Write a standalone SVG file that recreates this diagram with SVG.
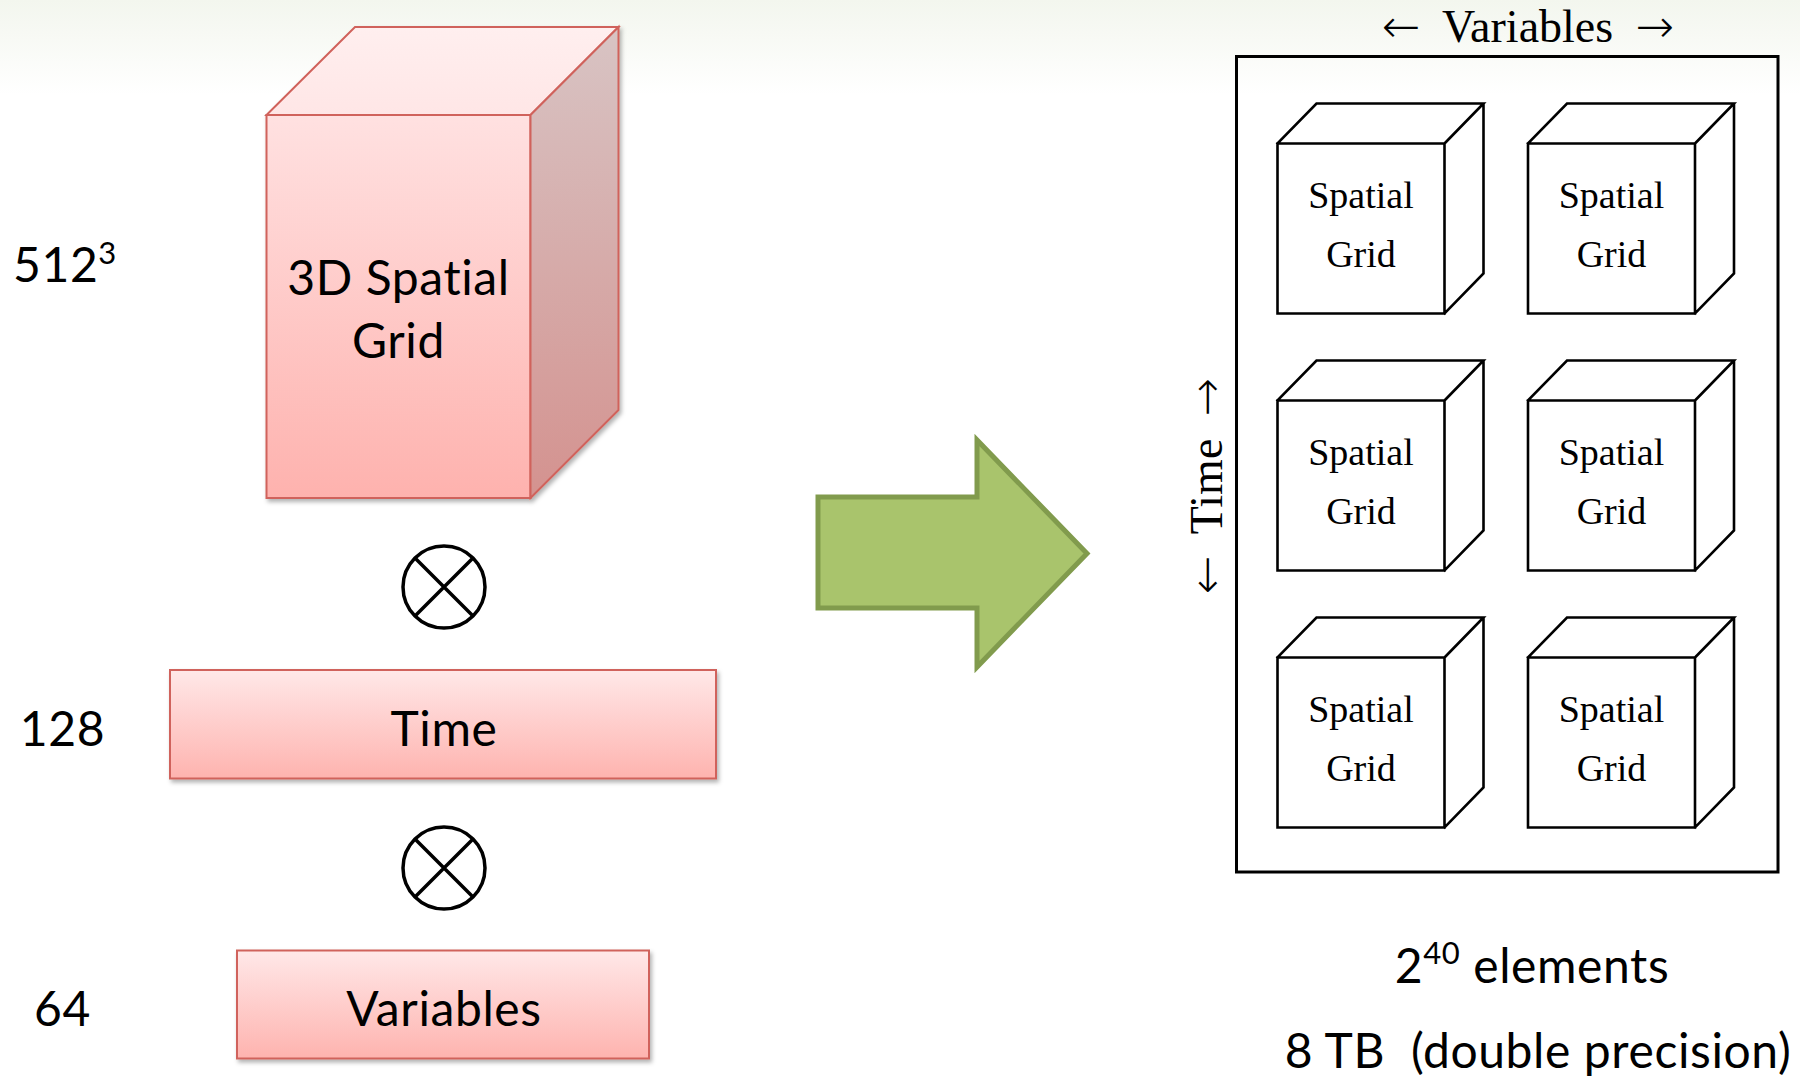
<svg xmlns="http://www.w3.org/2000/svg" xmlns:xlink="http://www.w3.org/1999/xlink" width="1800" height="1079" viewBox="0 0 1800 1079">
<style>
.sans{font-family:Lato,"Open Sans","Liberation Sans",sans-serif;fill:#000;font-size:48px;letter-spacing:0.6px}
.serif{font-family:"Liberation Serif","DejaVu Serif",serif;fill:#000}
.axis{font-size:46px;word-spacing:11px;text-anchor:middle}
.arr{font-family:"DejaVu Sans",sans-serif;font-weight:200}
.pinkline{stroke:#d0625b;stroke-width:2;stroke-linejoin:miter}
.bk{fill:none;stroke:#000;stroke-width:2.6;stroke-linejoin:miter;stroke-linecap:square}
.otimes{fill:none;stroke:#000;stroke-width:3.5}
.cell{font-size:38px;text-anchor:middle}
</style>
<defs>
<linearGradient id="bgTop" x1="0" y1="0" x2="0" y2="1">
<stop offset="0" stop-color="#f3f6ee"/>
<stop offset="1" stop-color="#ffffff"/>
</linearGradient>
<linearGradient id="frontG" gradientUnits="userSpaceOnUse" x1="0" y1="115" x2="0" y2="498">
<stop offset="0" stop-color="#ffe1e1"/>
<stop offset="1" stop-color="#feb2ae"/>
</linearGradient>
<linearGradient id="topG" gradientUnits="userSpaceOnUse" x1="0" y1="27" x2="0" y2="115">
<stop offset="0" stop-color="#ffefef"/>
<stop offset="1" stop-color="#ffe6e6"/>
</linearGradient>
<linearGradient id="sideG" gradientUnits="userSpaceOnUse" x1="0" y1="27" x2="0" y2="498">
<stop offset="0" stop-color="#d8c4c4"/>
<stop offset="1" stop-color="#d4928f"/>
</linearGradient>
<linearGradient id="boxG" x1="0" y1="0" x2="0" y2="1">
<stop offset="0" stop-color="#ffe8e8"/>
<stop offset="1" stop-color="#feb3af"/>
</linearGradient>
<filter id="shadow" x="-10%" y="-10%" width="125%" height="130%">
<feDropShadow dx="2" dy="3" stdDeviation="2" flood-color="#000" flood-opacity="0.3"/>
</filter>
<g id="scube">
<rect x="0" y="0" width="167" height="170" fill="#fff"/>
<path d="M0,0 L39,-40 L206,-40 L167,0 Z M167,0 L206,-40 L206,130 L167,170" fill="#fff"/>
<path class="bk" d="M0,0 H167 V170 H0 Z M0,0 L39,-40 H206 L167,0 M206,-40 V130 L167,170"/>
</g>
<g id="otimesShape">
<circle cx="0" cy="0" r="41" class="otimes"/>
<path class="otimes" d="M-29,-29 L29,29 M29,-29 L-29,29"/>
</g>
</defs>

<rect x="0" y="0" width="1800" height="1079" fill="#fff"/>
<rect x="0" y="0" width="1800" height="95" fill="url(#bgTop)"/>

<g id="spatial-grid-cube" filter="url(#shadow)">
<rect x="266.5" y="115" width="264" height="383" fill="url(#frontG)" class="pinkline"/>
<polygon points="266.5,115 355,27 618.5,27 530.5,115" fill="url(#topG)" class="pinkline"/>
<polygon points="530.5,115 618.5,27 618.5,410 530.5,498" fill="url(#sideG)" class="pinkline"/>
</g>
<g id="spatial-grid-label">
<text class="sans" x="398.5" y="295" text-anchor="middle" letter-spacing="0">3D Spatial</text>
<text class="sans" x="398.5" y="358" text-anchor="middle">Grid</text>
</g>

<g id="label-512">
<text class="sans" x="13" y="282" letter-spacing="0">512<tspan font-size="31" dy="-18">3</tspan></text>
</g>

<g id="otimes-1"><use xlink:href="#otimesShape" href="#otimesShape" x="444" y="587"/></g>

<g id="time-box">
<rect x="170" y="670" width="546" height="108.5" fill="url(#boxG)" class="pinkline" filter="url(#shadow)"/>
<text class="sans" x="444" y="746" text-anchor="middle">Time</text>
</g>
<g id="label-128"><text class="sans" x="62.5" y="746" text-anchor="middle">128</text></g>

<g id="otimes-2"><use xlink:href="#otimesShape" href="#otimesShape" x="444" y="868"/></g>

<g id="variables-box">
<rect x="237" y="950.5" width="412" height="108" fill="url(#boxG)" class="pinkline" filter="url(#shadow)"/>
<text class="sans" x="444" y="1026" text-anchor="middle">Variables</text>
</g>
<g id="label-64"><text class="sans" x="62.5" y="1026" text-anchor="middle">64</text></g>

<g id="connectors">
<polygon id="big-arrow" points="818,497 977,497 977,440 1087,553.5 977,667 977,608 818,608" fill="#a9c46c" stroke="#819b4d" stroke-width="5" stroke-linejoin="miter"/>
</g>

<g id="variables-axis-label">
<text class="serif axis" x="1528" y="42"><tspan class="arr">←</tspan> Variables <tspan class="arr">→</tspan></text>
</g>
<g id="time-axis-label">
<text class="serif axis" x="0" y="0" transform="translate(1222,486) rotate(-90)"><tspan class="arr">←</tspan> Time <tspan class="arr">→</tspan></text>
</g>

<g id="tensor-frame">
<rect x="1236.5" y="56.5" width="541.5" height="815.5" fill="none" stroke="#000" stroke-width="3"/>
</g>

<g id="cell-r1c1"><use xlink:href="#scube" href="#scube" x="1277.5" y="143.5"/><text class="serif cell" x="1361" y="208">Spatial</text><text class="serif cell" x="1361" y="267">Grid</text></g>
<g id="cell-r1c2"><use xlink:href="#scube" href="#scube" x="1528" y="143.5"/><text class="serif cell" x="1611.5" y="208">Spatial</text><text class="serif cell" x="1611.5" y="267">Grid</text></g>
<g id="cell-r2c1"><use xlink:href="#scube" href="#scube" x="1277.5" y="400.5"/><text class="serif cell" x="1361" y="465">Spatial</text><text class="serif cell" x="1361" y="524">Grid</text></g>
<g id="cell-r2c2"><use xlink:href="#scube" href="#scube" x="1528" y="400.5"/><text class="serif cell" x="1611.5" y="465">Spatial</text><text class="serif cell" x="1611.5" y="524">Grid</text></g>
<g id="cell-r3c1"><use xlink:href="#scube" href="#scube" x="1277.5" y="657.5"/><text class="serif cell" x="1361" y="722">Spatial</text><text class="serif cell" x="1361" y="781">Grid</text></g>
<g id="cell-r3c2"><use xlink:href="#scube" href="#scube" x="1528" y="657.5"/><text class="serif cell" x="1611.5" y="722">Spatial</text><text class="serif cell" x="1611.5" y="781">Grid</text></g>

<g id="summary-label">
<text class="sans" x="1532" y="983" text-anchor="middle">2<tspan font-size="31" dy="-19">40</tspan><tspan dy="19"> elements</tspan></text>
<text class="sans" x="1538" y="1068" text-anchor="middle" xml:space="preserve" style="white-space:pre">8 TB  (double precision)</text>
</g>
</svg>
